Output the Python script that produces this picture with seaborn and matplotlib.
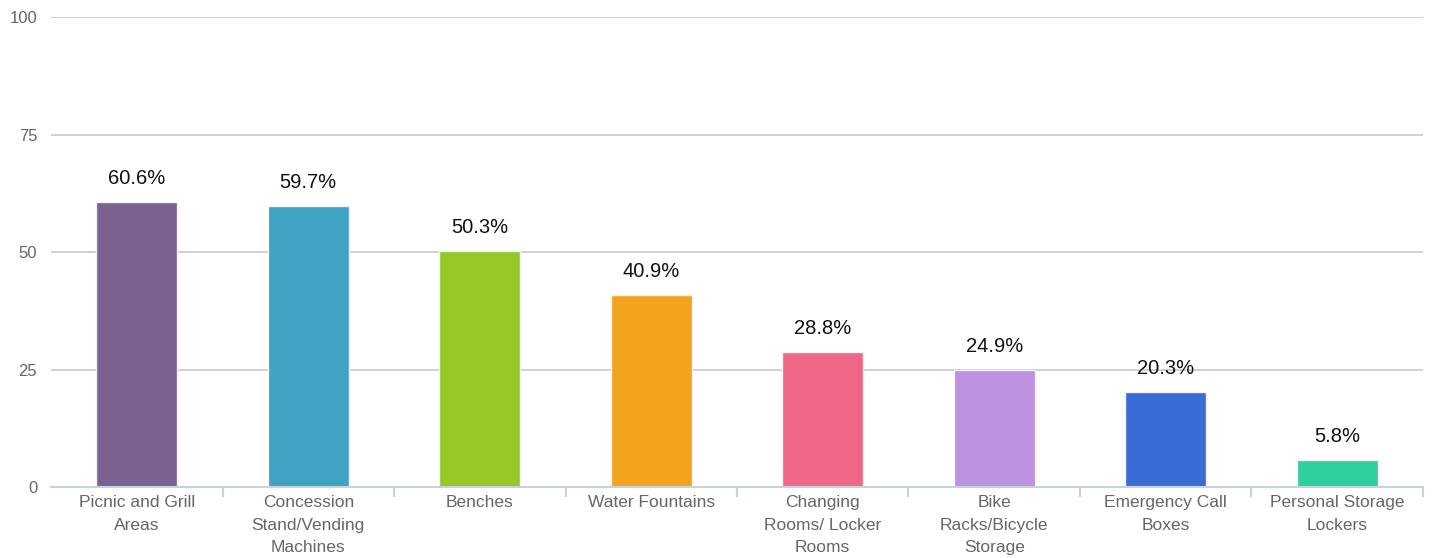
import numpy as np
import pandas as pd
import matplotlib
matplotlib.use("Agg")
import matplotlib.pyplot as plt
import seaborn as sns

categories = [
    "Picnic and Grill\nAreas",
    "Concession\nStand/Vending\nMachines",
    "Benches",
    "Water Fountains",
    "Changing\nRooms/ Locker\nRooms",
    "Bike\nRacks/Bicycle\nStorage",
    "Emergency Call\nBoxes",
    "Personal Storage\nLockers",
]
values = [60.6, 59.7, 50.3, 40.9, 28.8, 24.9, 20.3, 5.8]
colors = ["#7b6190", "#41a3c3", "#98c827", "#f4a41c",
          "#f06686", "#bd92e0", "#3a6cd5", "#2ecf9e"]
y_ticks = [0, 25, 50, 75, 100]

df = pd.DataFrame({"category": categories, "value": values})

sns.set_theme(style="white")
plt.rcParams["font.family"] = ["Liberation Sans", "DejaVu Sans"]

fig = plt.figure(figsize=(14.34, 5.58), dpi=100)
ax = fig.add_axes([0.0356, 0.1272, 0.9567, 0.8423])

sns.barplot(data=df, x="category", y="value", hue="category", palette=colors,
            legend=False, width=0.47, saturation=1, ax=ax,
            edgecolor="#f4f0f8", linewidth=1)

for i, v in enumerate(values):
    ax.text(i, v + 3, f"{v}%", ha="center", va="bottom", fontsize=14.5, color="#111111")

ax.set_ylim(0, 100)
ax.set_xlim(-0.5, len(categories) - 0.5)
ax.set_yticks(y_ticks)
ax.yaxis.grid(True, color="#c8c8c8", linewidth=1.2)
ax.set_axisbelow(True)
ax.set_xlabel("")
ax.set_ylabel("")

for side in ["top", "right", "left"]:
    ax.spines[side].set_visible(False)
ax.spines["bottom"].set_color("#c4d2e2")
ax.spines["bottom"].set_linewidth(1.5)

ax.tick_params(axis="y", length=0, labelsize=12, labelcolor="#666666", pad=10)
ax.tick_params(axis="x", which="major", length=0, labelsize=12.5, labelcolor="#666666", pad=6)
for lab in ax.get_xticklabels():
    lab.set_linespacing(1.62)
# category separators (none at the left end)
ax.set_xticks(np.arange(0.5, len(categories) + 0.5, 1), minor=True)
ax.tick_params(axis="x", which="minor", bottom=True, length=7, width=1.5, color="#c4d2e2")

fig.savefig("out.png", dpi=100)
